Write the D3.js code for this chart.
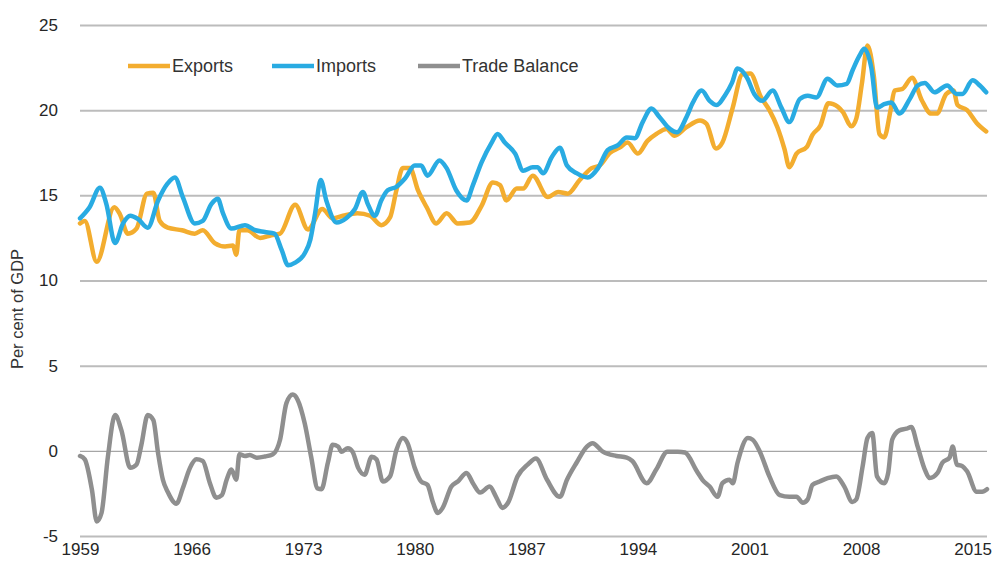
<!DOCTYPE html>
<html>
<head>
    <meta charset="utf-8">
    <title>Exports, imports and trade balance</title>
    <script src="https://cdnjs.cloudflare.com/ajax/libs/d3/7.8.5/d3.min.js"></script>
    <style>
        body {
            margin: 0;
            background-color: #ffffff;
            overflow: hidden;
        }
        svg {
            font-family: "Liberation Sans", Arial, sans-serif;
        }
        .tick text {
            fill: #262626;
            font-size: 17px;
        }
        .legend text {
            fill: #333;
            font-size: 18px;
        }
    </style>
</head>
<body>
<script>
const width = 1001;
const height = 564;

// values (per cent of GDP)
const exportsYear = [1959.0, 1959.3, 1960.05, 1961.15, 1961.5, 1962.0, 1962.55, 1963.2, 1963.6, 1964.0, 1964.5, 1965.4,
    1966.2, 1966.7, 1967.45, 1968.1, 1968.6, 1968.8, 1969.0, 1969.5, 1970.3, 1971.0, 1971.55, 1972.5, 1973.3, 1974.2,
    1974.85, 1975.5, 1976.4, 1977.2, 1977.9, 1978.45, 1978.85, 1979.25, 1979.7, 1980.2, 1980.75, 1981.35, 1982.0,
    1982.7, 1983.45, 1984.2, 1984.9, 1985.35, 1985.75, 1986.4, 1986.8, 1987.4, 1988.35, 1989.0, 1989.6, 1990.35,
    1991.1, 1991.6, 1992.25, 1992.85, 1993.35, 1994.0, 1994.6, 1995.15, 1995.8, 1996.3, 1997.05, 1997.9, 1998.3,
    1998.9, 1999.3, 1999.95, 2000.55, 2001.05, 2001.7, 2002.25, 2002.75, 2003.2, 2003.5, 2003.95, 2004.6, 2004.95,
    2005.45, 2005.95, 2006.25, 2006.85, 2007.4, 2007.7, 2008.05, 2008.4, 2008.8, 2009.15, 2009.45, 2009.85, 2010.1,
    2010.6, 2011.2, 2011.8, 2012.4, 2012.75, 2013.35, 2013.8, 2014.05, 2014.65, 2015.25, 2015.85];
const exportsPct = [13.35, 13.5, 11.1, 14.3, 13.9, 12.75, 13.05, 15.1, 15.15, 13.5, 13.1, 12.95,
    12.75, 12.95, 12.2, 12.0, 12.05, 11.5, 12.95, 12.95, 12.5, 12.65, 12.75, 14.45, 13.0, 14.2,
    13.65, 13.8, 13.95, 13.8, 13.25, 13.7, 15.3, 16.6, 16.6, 15.3, 14.3, 13.35, 13.95,
    13.35, 13.4, 14.4, 15.75, 15.6, 14.7, 15.4, 15.4, 16.15, 14.9, 15.2, 15.1, 15.9,
    16.6, 16.75, 17.5, 17.8, 18.1, 17.45, 18.2, 18.6, 18.9, 18.5, 19.0, 19.4, 19.2,
    17.75, 18.1, 20.15, 22.1, 22.15, 20.8, 20.0, 19.0, 17.7, 16.65, 17.45, 17.85, 18.55,
    19.1, 20.4, 20.35, 19.9, 19.05, 19.5, 21.55, 23.8, 22.0, 18.6, 18.4, 20.0, 21.15,
    21.25, 21.9, 20.6, 19.8, 19.8, 20.95, 21.15, 20.3, 20.0, 19.25, 18.75];

const importsYear = [1959.0, 1959.6, 1960.25, 1960.65, 1961.2, 1961.7, 1962.15, 1962.65, 1963.25, 1963.9, 1964.5,
    1964.95, 1965.45, 1966.2, 1966.7, 1967.25, 1967.65, 1967.95, 1968.5, 1969.35, 1970.0, 1970.6, 1971.2, 1971.65,
    1972.05, 1972.5, 1973.1, 1973.45, 1973.75, 1974.1, 1974.45, 1975.1, 1975.7, 1976.25, 1976.75, 1977.05, 1977.5,
    1977.9, 1978.3, 1978.85, 1979.4, 1980.0, 1980.4, 1980.8, 1981.55, 1982.0, 1982.6, 1983.25, 1983.65, 1984.2,
    1984.8, 1985.2, 1985.65, 1986.3, 1986.8, 1987.4, 1987.7, 1988.05, 1988.6, 1989.1, 1989.55, 1990.15, 1990.85,
    1991.5, 1992.1, 1992.75, 1993.3, 1993.8, 1994.3, 1994.85, 1995.35, 1996.0, 1996.45, 1997.05, 1997.45, 1998.0,
    1998.5, 1998.95, 1999.45, 1999.9, 2000.25, 2000.85, 2001.3, 2001.8, 2002.45, 2003.0, 2003.5, 2004.15, 2004.65,
    2005.2, 2005.9, 2006.5, 2007.1, 2007.45, 2007.9, 2008.2, 2008.65, 2009.0, 2009.45, 2009.9, 2010.4, 2011.05,
    2011.55, 2012.0, 2012.6, 2013.4, 2014.0, 2014.35, 2015.0, 2015.45, 2015.85];
const importsPct = [13.65, 14.3, 15.45, 14.5, 12.2, 13.35, 13.8, 13.6, 13.1, 14.7, 15.7,
    16.05, 14.9, 13.35, 13.5, 14.5, 14.8, 14.0, 13.05, 13.25, 12.95, 12.85, 12.75, 11.8,
    10.9, 11.05, 11.6, 12.4, 13.95, 15.9, 14.7, 13.4, 13.65, 14.2, 15.2, 14.5, 13.8,
    14.7, 15.3, 15.5, 16.0, 16.75, 16.75, 16.15, 17.05, 16.6, 15.3, 14.7, 15.6, 16.95,
    18.05, 18.6, 18.1, 17.45, 16.45, 16.65, 16.65, 16.3, 17.25, 17.8, 16.75, 16.3, 16.05,
    16.6, 17.65, 17.95, 18.4, 18.35, 19.3, 20.1, 19.6, 18.9, 18.7, 19.6, 20.45, 21.15,
    20.55, 20.3, 20.85, 21.6, 22.45, 21.9, 20.95, 20.55, 21.15, 20.15, 19.3, 20.65, 20.85,
    20.75, 21.85, 21.45, 21.55, 22.3, 23.2, 23.6, 22.45, 20.15, 20.35, 20.45, 19.8, 20.65,
    21.45, 21.6, 21.05, 21.45, 20.95, 20.95, 21.75, 21.45, 21.05];

const balanceYear = [1959.0, 1959.3, 1959.75, 1960.05, 1960.35, 1960.75, 1961.2, 1961.6, 1962.15, 1962.55, 1962.85,
    1963.25, 1963.6, 1963.9, 1964.2, 1964.5, 1965.05, 1965.45, 1965.9, 1966.3, 1966.7, 1967.15, 1967.55, 1967.9,
    1968.2, 1968.5, 1968.8, 1969.0, 1969.35, 1969.65, 1970.1, 1970.6, 1971.1, 1971.55, 1971.95, 1972.35, 1972.65,
    1973.1, 1973.5, 1973.9, 1974.15, 1974.55, 1974.85, 1975.2, 1975.4, 1975.8, 1976.1, 1976.45, 1976.85, 1977.3,
    1977.6, 1978.0, 1978.45, 1978.85, 1979.25, 1979.55, 1980.0, 1980.4, 1980.8, 1981.15, 1981.45, 1981.75, 1982.3,
    1982.7, 1983.25, 1983.65, 1984.1, 1984.7, 1985.1, 1985.5, 1985.85, 1986.45, 1987.1, 1987.6, 1988.3, 1989.1,
    1989.55, 1990.15, 1990.8, 1991.15, 1991.8, 1992.65, 1993.3, 1993.65, 1994.55, 1995.15, 1995.85, 1996.5, 1996.95,
    1997.7, 1998.05, 1998.5, 1999.0, 1999.3, 1999.75, 1999.95, 2000.25, 2000.9, 2001.2, 2001.65, 2002.25, 2002.9,
    2003.5, 2003.95, 2004.35, 2004.65, 2004.95, 2005.4, 2005.9, 2006.45, 2006.95, 2007.45, 2007.7, 2008.1, 2008.4,
    2008.7, 2009.0, 2009.45, 2009.7, 2009.95, 2010.4, 2010.85, 2011.15, 2011.55, 2012.0, 2012.3, 2012.8, 2013.1,
    2013.55, 2013.75, 2014.0, 2014.35, 2014.65, 2015.25, 2015.6, 2015.9];
const balancePct = [-0.3, -0.5, -2.3, -4.15, -3.65, -0.35, 2.1, 1.2, -1.0, -0.8, 0.35,
    2.1, 1.8, -0.15, -1.7, -2.4, -3.1, -2.2, -1.0, -0.5, -0.6, -1.9, -2.75, -2.6,
    -1.7, -1.1, -1.7, -0.2, -0.3, -0.25, -0.4, -0.33, -0.2, 0.65, 2.8, 3.3, 3.0,
    1.6, -0.35, -2.2, -2.25, -0.7, 0.35, 0.25, -0.05, 0.15, -0.05, -1.0, -1.4, -0.35,
    -0.5, -1.8, -1.5, 0.05, 0.75, 0.45, -1.0, -1.8, -2.0, -3.05, -3.65, -3.35, -2.1,
    -1.8, -1.3, -1.9, -2.45, -2.1, -2.7, -3.35, -3.05, -1.5, -0.8, -0.45, -1.7, -2.7,
    -1.7, -0.7, 0.25, 0.45, -0.05, -0.3, -0.4, -0.6, -1.9, -1.1, -0.05, -0.05, -0.1,
    -1.2, -1.7, -2.1, -2.7, -1.9, -1.7, -1.9, -0.7, 0.75, 0.65, -0.05, -1.5, -2.6,
    -2.7, -2.7, -3.05, -2.85, -2.0, -1.8, -1.6, -1.5, -2.1, -3.0, -2.85, -0.9, 0.75,
    1.05, -1.5, -1.9, -1.3, 0.65, 1.2, 1.3, 1.4, 0.25, -1.1, -1.6, -1.3, -0.7,
    -0.4, 0.25, -0.8, -0.9, -1.2, -2.4, -2.4, -2.25];

const seriesNames = ["Exports", "Imports", "Trade Balance"];
const seriesColors = ["#f3ad2f", "#29abe2", "#8f8f8f"];
const yTicks = [-5, 0, 5, 10, 15, 20, 25];
const xTicks = [1959, 1966, 1973, 1980, 1987, 1994, 2001, 2008, 2015];

const series = [
    { name: seriesNames[0], color: seriesColors[0], values: exportsYear.map((t, i) => ({ t, v: exportsPct[i] })) },
    { name: seriesNames[1], color: seriesColors[1], values: importsYear.map((t, i) => ({ t, v: importsPct[i] })) },
    { name: seriesNames[2], color: seriesColors[2], values: balanceYear.map((t, i) => ({ t, v: balancePct[i] })) }
];

const x = d3.scaleLinear().domain([1959, 2015.9]).range([80, 987]);
const y = d3.scaleLinear().domain([-5, 25]).range([536, 25]);

const svg = d3.select("body")
    .append("svg")
    .attr("width", width)
    .attr("height", height);

// horizontal gridlines + y labels
const yAxis = svg.append("g")
    .attr("transform", `translate(${x.range()[0]},0)`)
    .call(d3.axisLeft(y)
        .tickValues(yTicks)
        .tickFormat(d => String(d))
        .tickSize(-(x.range()[1] - x.range()[0]))
        .tickPadding(22));
yAxis.select(".domain").remove();
yAxis.selectAll(".tick line")
    .attr("stroke", d => d === 0 ? "#a6a6a6" : "#bcbcbc")
    .attr("stroke-width", d => d === 0 ? 1.2 : 2);

// x labels
const xAxis = svg.append("g")
    .attr("transform", `translate(0,${y(-5)})`)
    .call(d3.axisBottom(x).tickValues(xTicks).tickFormat(d3.format("d")).tickSize(0).tickPadding(7));
xAxis.select(".domain").remove();

// y title
svg.append("text")
    .attr("transform", `translate(23,309) rotate(-90)`)
    .attr("text-anchor", "middle")
    .attr("fill", "#333")
    .style("font-size", "16.5px")
    .text("Per cent of GDP");

const line = d3.line()
    .x(d => x(d.t))
    .y(d => y(d.v))
    .curve(d3.curveMonotoneX);

svg.selectAll(".series")
    .data(series)
    .join("path")
    .attr("class", "series")
    .attr("fill", "none")
    .attr("stroke", d => d.color)
    .attr("stroke-width", 4.5)
    .attr("stroke-linejoin", "round")
    .attr("stroke-linecap", "round")
    .attr("d", d => line(d.values));

// legend
const legendX = [128, 272, 418];
const legend = svg.append("g").attr("class", "legend");
const item = legend.selectAll("g")
    .data(series)
    .join("g")
    .attr("transform", (d, i) => `translate(${legendX[i]},66)`);
item.append("line")
    .attr("x1", 0).attr("x2", 42)
    .attr("stroke", d => d.color)
    .attr("stroke-width", 4.5);
item.append("text")
    .attr("x", 44)
    .attr("dy", "0.35em")
    .text(d => d.name);
</script>
</body>
</html>
